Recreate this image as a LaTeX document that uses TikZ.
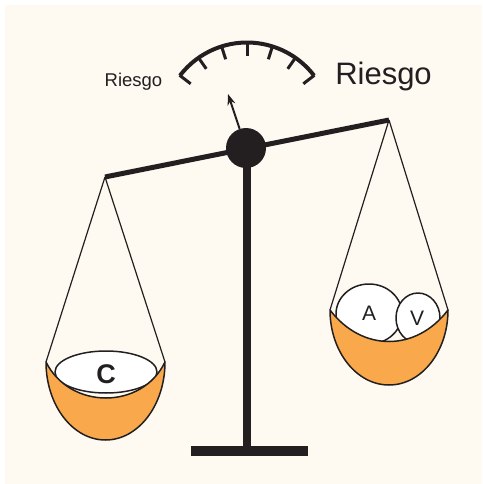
\documentclass[tikz,border=0pt]{standalone}
\usepackage{fontspec}
\setmainfont{Liberation Sans}
\usepackage{tikz}
\usetikzlibrary{arrows.meta}

\definecolor{crema}{HTML}{FEF9F1}
\definecolor{naranja}{HTML}{F9A94B}
\definecolor{tinta}{HTML}{231F20}

\begin{document}
\begin{tikzpicture}[x=1pt, y=-1pt, line join=round,
    cuerda/.style={draw=tinta, line width=1.2pt},
    objeto/.style={draw=tinta, fill=white, line width=1.5pt},
    platillo/.style={draw=tinta, fill=naranja, line width=1.5pt},
    letra/.style={text=tinta, inner sep=0pt, anchor=base}]
            % Fondo
            \useasboundingbox (0,0) rectangle (482,484);
            \fill[crema] (5,5) rectangle (482,484);

            % Puntos
            \coordinate (bl) at (105,177);
            \coordinate (br) at (389,120);
            \coordinate (pl1) at (46,362);
            \coordinate (pl2) at (165,362);
            \coordinate (pr1) at (330,310);
            \coordinate (pr2) at (448,310);
            \coordinate (aguja) at (228,94);
            \coordinate (pie) at (247,447);

            % Soporte y brazo
            \draw[tinta, line width=8pt] (247,148) -- (pie);
            \fill[tinta] (191,446) rectangle (308,456);
            \draw[tinta, line width=5pt] (bl) -- (br);
            \node[circle, fill=tinta, minimum size=40pt, inner sep=0pt] (eje) at (246,148) {};

            % Indicador
            \draw[tinta, line width=4pt] (247,127) ++(217.5:84.5) arc[start angle=217.5, end angle=322.5, radius=84.5];
            \foreach \a in {217.5,235,...,322.5}
              \draw[tinta, line width=3pt, shift={(247,127)}] (\a:85) -- (\a:71);
            \draw[-{Stealth[length=11pt,width=8pt]}, tinta, line width=2pt] (eje) -- (aguja);

            % Textos
            \node[letra, font=\fontsize{18.5}{21}\selectfont] (r1) at (133.5,87) {Riesgo};
            \node[letra, font=\fontsize{31}{36}\selectfont] (r2) at (383.5,85) {Riesgo};

            % Cuerdas
            \draw[cuerda] (bl) -- (pl1);
            \draw[cuerda] (bl) -- (pl2);
            \draw[cuerda] (br) -- (pr1);
            \draw[cuerda] (br) -- (pr2);

            % Platillo izquierdo
            \draw[objeto] (106,372) ellipse[x radius=51, y radius=21];
            \node[letra, font=\fontsize{27}{30}\selectfont\bfseries] (c) at (106,383) {C};
            \draw[platillo] (pl1) arc[start angle=180, end angle=0, x radius=59.5, y radius=78]
              .. controls (142,410) and (70,410) .. (pl1) -- cycle;

            % Platillo derecho
            \draw[objeto] (369,314) ellipse[x radius=33, y radius=30];
            \node[letra, font=\fontsize{21}{24}\selectfont] (a) at (369,320) {A};
            \draw[objeto] (418,318) ellipse[x radius=22, y radius=25];
            \node[letra, font=\fontsize{21}{24}\selectfont] (v) at (417,325) {V};
            \draw[platillo] (pr1) arc[start angle=180, end angle=0, x radius=59, y radius=75]
              .. controls (416,352) and (362,352) .. (pr1) -- cycle;
          \end{tikzpicture}
\end{document}
